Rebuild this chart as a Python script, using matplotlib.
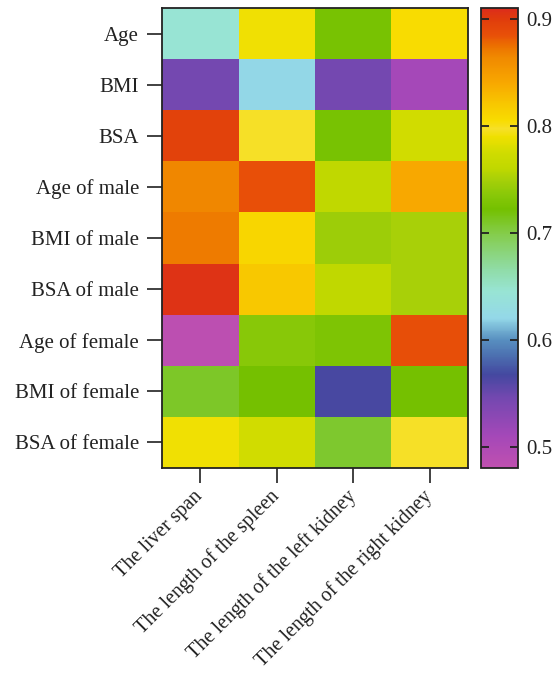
import matplotlib
matplotlib.use("Agg")
import matplotlib.pyplot as plt
import numpy as np
from matplotlib.colors import LinearSegmentedColormap

rows = ["Age", "BMI", "BSA", "Age of male", "BMI of male", "BSA of male",
        "Age of female", "BMI of female", "BSA of female"]
cols = ["The liver span", "The length of the spleen",
        "The length of the left kidney", "The length of the right kidney"]

liver = [0.645, 0.545, 0.895, 0.865, 0.870, 0.905, 0.485, 0.710, 0.790]
spleen = [0.790, 0.620, 0.797, 0.885, 0.810, 0.820, 0.735, 0.722, 0.775]
left_kidney = [0.725, 0.545, 0.725, 0.760, 0.745, 0.760, 0.728, 0.565, 0.708]
right_kidney = [0.805, 0.510, 0.775, 0.840, 0.750, 0.750, 0.886, 0.722, 0.797]

cb_ticks = [0.5, 0.6, 0.7, 0.8, 0.9]
vmin, vmax = 0.48, 0.91

anchor_vals = [0.480, 0.510, 0.545, 0.567, 0.585, 0.600, 0.620, 0.645, 0.665,
               0.700, 0.722, 0.735, 0.750, 0.760, 0.775, 0.790, 0.797, 0.805,
               0.820, 0.840, 0.865, 0.875, 0.885, 0.900, 0.910]
anchor_cols = ["#c050b0", "#a448b8", "#7448b0", "#4448a0", "#4c70b0", "#5890c0",
               "#94d8e8", "#98e4d4", "#90dca8", "#84cc48", "#74c000", "#88c808",
               "#a8d008", "#c0d800", "#d0dc00", "#f0e000", "#f6e028", "#f8dc00",
               "#f8c800", "#f8a800", "#f08800", "#ec7000", "#e85008", "#e03c0c",
               "#dc2c1c"]
pos = [(v - vmin) / (vmax - vmin) for v in anchor_vals]
cmap = LinearSegmentedColormap.from_list("custom", list(zip(pos, anchor_cols)), N=512)

data = np.array([liver, spleen, left_kidney, right_kidney]).T

plt.rcParams['font.family'] = ['Liberation Serif', 'DejaVu Serif']
txtcol = "#222222"
fs = 15

fig = plt.figure(figsize=(5.6, 6.78), dpi=100)
ax = fig.add_axes([162/560, 1-468/678, (468-162)/560, (468-8)/678])
mesh = ax.pcolormesh(np.arange(len(cols)+1), np.arange(len(rows)+1), data,
                     cmap=cmap, vmin=vmin, vmax=vmax)
ax.set_xlim(0, len(cols))
ax.set_ylim(len(rows), 0)
ax.set_xticks(np.arange(len(cols)) + 0.5)
ax.set_yticks(np.arange(len(rows)) + 0.5)
ax.set_yticklabels(rows, fontsize=fs, color=txtcol)
ax.set_xticklabels(cols, fontsize=14.5, color=txtcol, rotation=45,
                   ha='right', va='center', rotation_mode='anchor')
ax.tick_params(axis='both', length=10.5, width=1.3, color="#333333")
ax.tick_params(axis='y', pad=6)
ax.tick_params(axis='x', pad=8)
for s in ax.spines.values():
    s.set_linewidth(1.3)
    s.set_color("#222222")

cax = fig.add_axes([481/560, 1-468/678, (518-481)/560, (468-8)/678])
cb = fig.colorbar(mesh, cax=cax, ticks=cb_ticks)
cb.ax.set_yticklabels([f"{t:.1f}" for t in cb_ticks], fontsize=fs, color=txtcol)
cb.ax.tick_params(axis='y', direction='in', length=6, width=1.3, color="#222222",
                  left=True, right=True, pad=6)
cb.outline.set_linewidth(1.3)
cb.outline.set_edgecolor("#222222")

fig.savefig("out.png", dpi=100)
